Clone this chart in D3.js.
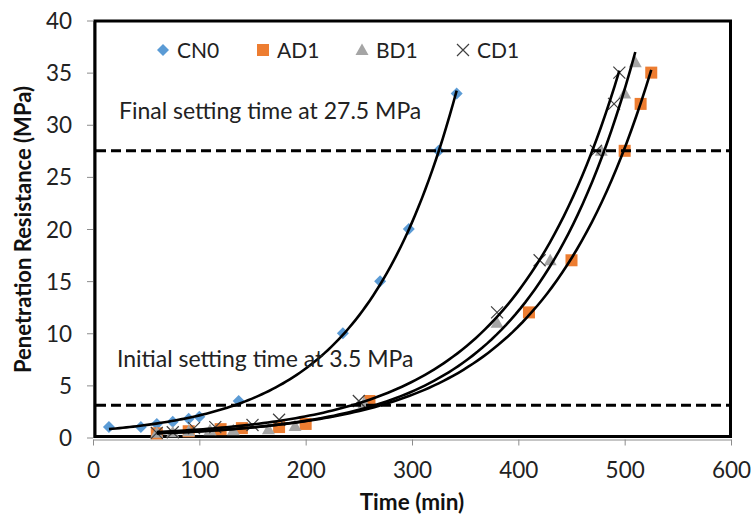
<!DOCTYPE html>
<html><head><meta charset="utf-8">
<script src="https://cdn.jsdelivr.net/npm/d3@7"></script>
<style>
body{margin:0;background:#fff;}
svg{display:block;font-family:Lato,"Open Sans",sans-serif;}
</style></head>
<body><svg id="c" width="751" height="518"></svg>
<script>
// ---- data ----
const seriesNames = ["CN0","AD1","BD1","CD1"];
const cn0Time = [15,45,60,75,90,100,137,235,270,297,325,342];
const cn0Res  = [1.0,1.0,1.3,1.5,1.8,2.0,3.5,10,15,20,27.5,33];
const ad1Time = [60,90,120,140,175,200,260,410,450,500,515,525];
const ad1Res  = [0.4,0.6,0.8,0.9,1.0,1.3,3.5,12,17,27.5,32,35];
const bd1Time = [60,75,90,110,132,165,190,255,380,430,478,500,510];
const bd1Res  = [0.45,0.5,0.6,0.7,0.7,0.8,1.1,3.3,11,17,27.5,33,36];
const cd1Time = [60,75,95,115,150,175,250,380,420,473,490,495];
const cd1Res  = [0.45,0.5,0.9,1.0,1.2,1.7,3.5,12,17,27.5,32,35];
const xTicks = [0,100,200,300,400,500,600];
const yTicks = [0,5,10,15,20,25,30,35,40];
const refLevels = [27.5, 3.1];
const refLabels = ["Final setting time at 27.5 MPa","Initial setting time at 3.5 MPa"];

const colors = {CN0:"#5B9BD5", AD1:"#ED7D31", BD1:"#A5A5A5", CD1:"#404040"};
const series = [
  {name:"CN0", t:cn0Time, r:cn0Res},
  {name:"AD1", t:ad1Time, r:ad1Res},
  {name:"BD1", t:bd1Time, r:bd1Res},
  {name:"CD1", t:cd1Time, r:cd1Res}
];

const svg = d3.select("#c");
const x = d3.scaleLinear([0,600],[93,731]);
const y = d3.scaleLinear([0,40],[437.5,20.5]);

// axes
const gx = svg.append("g").attr("transform","translate(0,439.5)")
  .call(d3.axisBottom(x).tickValues(xTicks).tickSize(6).tickSizeOuter(0));
gx.select(".domain").attr("stroke","#8c8c8c");
gx.selectAll(".tick line").attr("stroke","#8c8c8c");
gx.selectAll(".tick text").attr("dy",null).attr("y",38.5).attr("font-size",22.5)
  .attr("font-family","Lato").attr("fill","#222");

const gy = svg.append("g").attr("transform","translate(93,0)")
  .call(d3.axisLeft(y).tickValues(yTicks).tickSize(6).tickPadding(15).tickSizeOuter(0));
gy.select(".domain").attr("stroke","#8c8c8c");
gy.selectAll(".tick line").attr("stroke","#8c8c8c");
gy.selectAll(".tick text").attr("dy","0.36em").attr("font-size",22.5).attr("font-family","Lato").attr("fill","#222");

// frame
svg.append("rect").attr("x",95).attr("y",21).attr("width",635.5).attr("height",415.5)
  .attr("fill","none").attr("stroke","#000").attr("stroke-width",3);

// markers
function marker(g, name, cx, cy){
  const c = colors[name];
  if(name==="CN0"){
    g.append("path").attr("d",`M${cx},${cy-6}L${cx+6},${cy}L${cx},${cy+6}L${cx-6},${cy}Z`).attr("fill",c);
  } else if(name==="AD1"){
    g.append("rect").attr("x",cx-6).attr("y",cy-6).attr("width",12).attr("height",12).attr("fill",c);
  } else if(name==="BD1"){
    g.append("path").attr("d",`M${cx},${cy-6.5}L${cx+6.5},${cy+5}L${cx-6.5},${cy+5}Z`).attr("fill",c);
  } else {
    g.append("path").attr("d",`M${cx-6},${cy-6}L${cx+6},${cy+6}M${cx-6},${cy+6}L${cx+6},${cy-6}`)
      .attr("stroke",c).attr("stroke-width",1.2).attr("fill","none");
  }
}
const gm = svg.append("g");
series.forEach(s=>{
  s.t.forEach((tv,i)=>marker(gm, s.name, x(tv), y(s.r[i])));
});

// exponential trendlines (least squares on ln y, like Excel)
function expFit(t, r){
  const lx=d3.mean(t), ly=d3.mean(r.map(Math.log));
  let sxy=0,sxx=0;
  t.forEach((tv,i)=>{sxy+=(tv-lx)*(Math.log(r[i])-ly); sxx+=(tv-lx)*(tv-lx);});
  const b=sxy/sxx, a=Math.exp(ly-b*lx);
  return v=>a*Math.exp(b*v);
}
const line = d3.line().x(d=>x(d[0])).y(d=>y(d[1]));
series.forEach(s=>{
  const f = expFit(s.t, s.r);
  const [t0,t1] = d3.extent(s.t);
  const pts = d3.range(0,101).map(k=>{const v=t0+(t1-t0)*k/100; return [v,f(v)];});
  svg.append("path").attr("d",line(pts)).attr("fill","none").attr("stroke","#000").attr("stroke-width",2.6);
});

// reference lines
refLevels.forEach(v=>{
  svg.append("line").attr("x1",96).attr("x2",729).attr("y1",y(v)).attr("y2",y(v))
    .attr("stroke","#000").attr("stroke-width",3).attr("stroke-dasharray","10,5");
});
svg.append("text").attr("x",119).attr("y",118.5).attr("font-size",23).attr("fill","#222").text(refLabels[0]);
svg.append("text").attr("x",117).attr("y",366.5).attr("font-size",23).attr("fill","#222").text(refLabels[1]);

// legend
const legX = [163,263,362,463];
const gl = svg.append("g");
seriesNames.forEach((nm,i)=>{
  marker(gl, nm, legX[i], 50);
  gl.append("text").attr("x",legX[i]+14).attr("y",57.5).attr("font-size",21).attr("fill","#222").text(nm);
});

// axis titles
svg.append("text").attr("x",412).attr("y",510).attr("text-anchor","middle")
  .attr("font-size",22.5).attr("font-weight","bold").attr("fill","#111").text("Time (min)");
svg.append("text").attr("transform","translate(31,229.5) rotate(-90)").attr("text-anchor","middle")
  .attr("font-size",22).attr("font-weight","bold").attr("fill","#111").text("Penetration Resistance (MPa)");
</script></body></html>
